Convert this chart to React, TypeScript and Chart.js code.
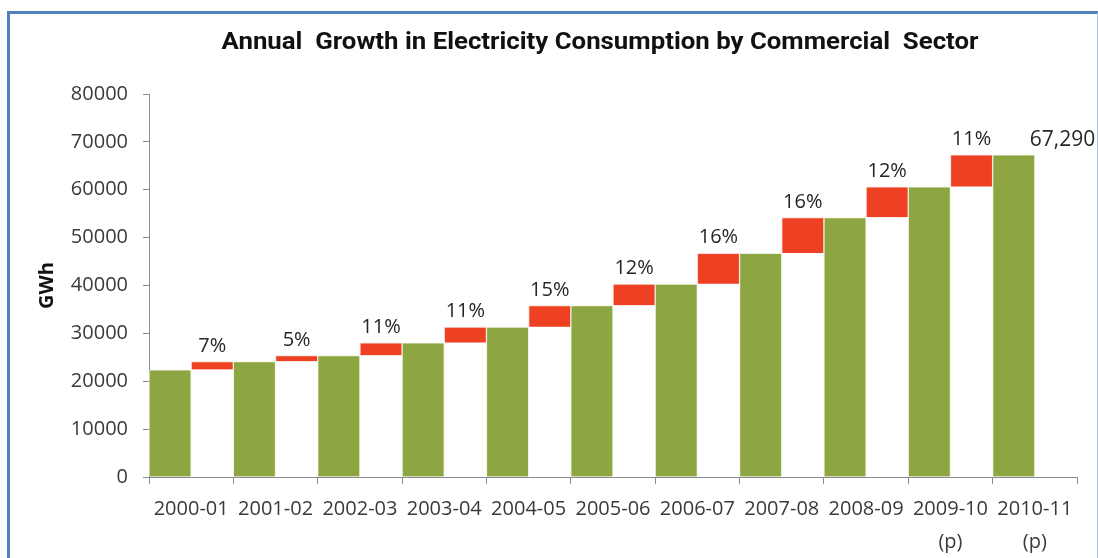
import React, { useEffect, useRef } from "react";
import { Chart, registerables } from "chart.js";

Chart.register(...registerables);

// ---------- data ----------
const TITLE = "Annual  Growth in Electricity Consumption by Commercial  Sector";
const Y_TITLE = "GWh";
const YEARS: string[][] = [
  ["2000-01"],
  ["2001-02"],
  ["2002-03"],
  ["2003-04"],
  ["2004-05"],
  ["2005-06"],
  ["2006-07"],
  ["2007-08"],
  ["2008-09"],
  ["2009-10", "(p)"],
  ["2010-11", "(p)"],
];
const CONSUMPTION = [22400, 24100, 25350, 28000, 31300, 35800, 40300, 46700, 54200, 60600, 67290];
const GROWTH_LABELS = ["7%", "5%", "11%", "11%", "15%", "12%", "16%", "16%", "12%", "11%"];
const LAST_LABEL = "67,290";
const Y_MIN = 0;
const Y_MAX = 80000;
const Y_STEP = 10000;

// derived series for the waterfall
const BASE = CONSUMPTION.map((v, i) => (i < CONSUMPTION.length - 1 ? v : null));
const INCREMENT = CONSUMPTION.map((v, i) =>
  i < CONSUMPTION.length - 1 ? CONSUMPTION[i + 1] - v : null
);

const GREEN = "#8EA642";
const RED = "#EE4123";
const AXIS = "#8C8C8C";
const TICK_TEXT = "#3A3A3A";
const FONT = "'Open Sans', sans-serif";
const TITLE_WIDTH = 757;

const labelPlugin = {
  id: "waterfallLabels",
  afterDatasetsDraw(chart: any) {
    const { ctx, chartArea } = chart;
    ctx.save();
    // title (condensed like the original)
    ctx.font = `bold 24px Roboto, sans-serif`;
    ctx.fillStyle = "#111";
    ctx.textAlign = "center";
    ctx.textBaseline = "alphabetic";
    const w = ctx.measureText(TITLE).width;
    const sx = TITLE_WIDTH / w;
    const cx = (chartArea.left + chartArea.right) / 2 - 13;
    ctx.save();
    ctx.translate(cx, chartArea.top - 45);
    ctx.scale(sx, 1);
    ctx.fillText(TITLE, 0, 0);
    ctx.restore();

    // growth labels over increments
    const incMeta = chart.getDatasetMeta(2);
    ctx.font = `20px ${FONT}`;
    ctx.fillStyle = "#262626";
    ctx.textAlign = "center";
    ctx.textBaseline = "alphabetic";
    GROWTH_LABELS.forEach((t, i) => {
      const el = incMeta.data[i];
      if (!el) return;
      ctx.fillText(t, el.x, el.y - 10);
    });
    // last value label
    const gMeta = chart.getDatasetMeta(0);
    const last = gMeta.data[CONSUMPTION.length - 1];
    if (last) {
      ctx.font = `21px ${FONT}`;
      ctx.textAlign = "left";
      ctx.fillText(LAST_LABEL, last.x + last.width / 2 - 5, last.y - 9);
    }
    ctx.restore();
  },
};

export default function App() {
  const ref = useRef<HTMLCanvasElement | null>(null);
  useEffect(() => {
    if (!ref.current) return;
    const chart = new Chart(ref.current, {
      type: "bar",
      data: {
        labels: YEARS,
        datasets: [
          {
            label: "Consumption",
            data: CONSUMPTION,
            backgroundColor: GREEN,
            borderColor: "rgba(235,242,220,0.9)",
            borderWidth: 1,
            stack: "a",
            barPercentage: 1,
            categoryPercentage: 1,
          },
          {
            label: "Base",
            data: BASE,
            backgroundColor: "#FFFFFF",
            borderWidth: 0,
            stack: "b",
            barPercentage: 1,
            categoryPercentage: 1,
          },
          {
            label: "Growth",
            data: INCREMENT,
            backgroundColor: RED,
            borderColor: "rgba(250,220,210,0.9)",
            borderWidth: 1,
            stack: "b",
            barPercentage: 1,
            categoryPercentage: 1,
          },
        ],
      },
      options: {
        responsive: false,
        animation: false,
        devicePixelRatio: 1,
        layout: { padding: { left: 0, right: 21, top: 94, bottom: 0 } },
        plugins: {
          legend: { display: false },
          tooltip: { enabled: false },
          title: { display: false },
        },
        scales: {
          x: {
            stacked: true,
            grid: {
              offset: true,
              drawOnChartArea: false,
              tickLength: 7,
              color: AXIS,
            },
            border: { color: AXIS },
            ticks: {
              font: { family: FONT, size: 20, lineHeight: 1.65 },
              color: TICK_TEXT,
              padding: 9,
              maxRotation: 0,
              autoSkip: false,
            },
            afterFit: (s: any) => {
              s.height = 81;
            },
          },
          y: {
            stacked: true,
            min: Y_MIN,
            max: Y_MAX,
            ticks: {
              stepSize: Y_STEP,
              font: { family: FONT, size: 20 },
              color: TICK_TEXT,
              padding: 15,
              callback: (v: any) => String(v),
            },
            grid: { drawOnChartArea: false, tickLength: 6, color: AXIS },
            border: { color: AXIS },
            title: {
              display: true,
              text: Y_TITLE,
              font: { family: FONT, size: 20, weight: "bold" },
              color: "#111",
              padding: { top: 35, bottom: 0 },
            },
            afterFit: (s: any) => {
              s.width = 149;
            },
          },
        },
      },
      plugins: [labelPlugin],
    });
    return () => chart.destroy();
  }, []);

  return (
    <div
      style={{
        position: "absolute",
        left: 0,
        top: 0,
        width: 1098,
        height: 558,
        background: "#fff",
        overflow: "hidden",
      }}
    >
      <div
        style={{
          position: "absolute",
          left: 7,
          top: 11,
          width: 1091,
          height: 600,
          boxSizing: "border-box",
          borderTop: "3px solid #4F81BD",
          borderLeft: "3px solid #4F81BD",
          borderRight: "1px solid #A9C1DF",
        }}
      />
      <canvas
        ref={ref}
        width={1098}
        height={558}
        style={{ position: "absolute", left: 0, top: 0 }}
      />
    </div>
  );
}
